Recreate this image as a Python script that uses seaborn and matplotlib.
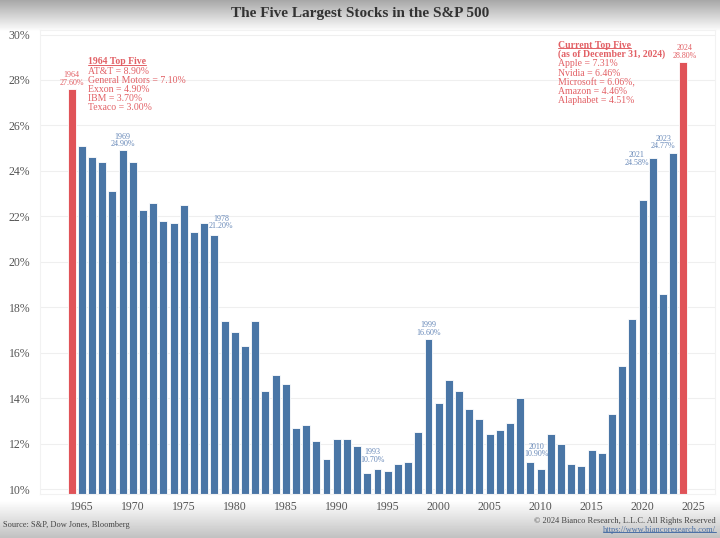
import numpy as np
import pandas as pd
import seaborn as sns
import matplotlib
matplotlib.use("Agg")
import matplotlib.pyplot as plt
from matplotlib.lines import Line2D

# share of S&P 500 market cap held by the five largest stocks (%)
years = list(range(1964, 2025))
shares = [27.60, 25.10, 24.60, 24.40, 23.10, 24.90, 24.40, 22.30, 22.60, 21.80,
          21.70, 22.50, 21.30, 21.70, 21.20, 17.40, 16.90, 16.30, 17.40, 14.30,
          15.00, 14.60, 12.70, 12.80, 12.10, 11.30, 12.20, 12.20, 11.90, 10.70,
          10.90, 10.80, 11.10, 11.20, 12.50, 16.60, 13.80, 14.80, 14.30, 13.50,
          13.10, 12.40, 12.60, 12.90, 14.00, 11.20, 10.90, 12.40, 12.00, 11.10,
          11.00, 11.70, 11.60, 13.30, 15.40, 17.50, 22.70, 24.58, 18.60, 24.77,
          28.80]
highlight_years = [1964, 2024]
label_years = [1964, 1969, 1978, 1993, 1999, 2010, 2021, 2023, 2024]

top5_1964 = ["AT&T = 8.90%", "General Motors = 7.10%", "Exxon = 4.90%",
             "IBM = 3.70%", "Texaco = 3.00%"]
top5_now = ["Apple = 7.31%", "Nvidia = 6.46%", "Microsoft = 6.06%,",
            "Amazon = 4.46%", "Alaphabet = 4.51%"]
yticks = [10, 12, 14, 16, 18, 20, 22, 24, 26, 28, 30]
xticks = [1965, 1970, 1975, 1980, 1985, 1990, 1995, 2000, 2005, 2010, 2015, 2020, 2025]

BLUE = "#4a76a6"
RED = "#e05358"
LBLUE = "#6788b8"
LRED = "#e26065"
GREY = "#555555"

# label offsets (pixels) relative to bar top
label_off = {1964: (0, 10), 1969: (0, 10), 1978: (7, 12), 1993: (5, 17),
             1999: (0, 10), 2010: (-4, 18), 2021: (-16, -1), 2023: (-10, 11),
             2024: (1, 10)}

sns.set_theme(style="white")
plt.rcParams["font.family"] = ["Liberation Serif", "DejaVu Serif"]

W, H = 720, 538
fig = plt.figure(figsize=(W / 100, H / 100), dpi=100)


def px(x, y):
    return x / W, 1 - y / H


# header / footer gradient
bg = fig.add_axes([0, 0, 1, 1], zorder=-10)
col = np.ones(H)
col[:32] = np.linspace(0.66, 1.0, 32)
col[500:] = np.linspace(1.0, 0.76, H - 500)
bg.imshow(col[:, None], cmap="gray", vmin=0, vmax=1, aspect="auto",
          extent=[0, 1, 0, 1])
bg.axis("off")

ax = fig.add_axes([40 / W, 1 - 494 / H, 675 / W, 464 / H])
ax.set_facecolor("white")

df = pd.DataFrame({"year": years, "share": shares})
df["grp"] = np.where(df["year"].isin(highlight_years), "hi", "lo")
sns.barplot(data=df, x="year", y="share", hue="grp",
            palette={"hi": RED, "lo": BLUE}, native_scale=True, dodge=False,
            width=0.78, edgecolor="white", linewidth=0.6, legend=False,
            saturation=1, ax=ax)

ax.set_xlim(1960.9, 2027.1)
ax.set_ylim(9.78, 30.2)
ax.set_yticks(yticks)
ax.set_yticklabels([f"{t}%" for t in yticks])
ax.set_xticks(xticks)
ax.set_xticklabels([str(t) for t in xticks])
ax.tick_params(axis="both", length=0, labelsize=8.5, labelcolor=GREY)
ax.tick_params(axis="y", pad=7)
ax.tick_params(axis="x", pad=5)
ax.set_xlabel("")
ax.set_ylabel("")
ax.yaxis.grid(True, color="#efefef", lw=0.8)
ax.set_axisbelow(True)
for s in ax.spines.values():
    s.set_color("#f2f2f2")
    s.set_linewidth(0.8)

# bar labels
for y in label_years:
    v = shares[years.index(y)]
    c = LRED if y in highlight_years else LBLUE
    dx, dy = label_off[y]
    ax.annotate(f"{y}\n{v:.2f}%", xy=(y, v), xytext=(dx, dy),
                textcoords="offset pixels", ha="center", va="center",
                fontsize=5.8, color=c, linespacing=0.95)

fig.canvas.draw()


def underline(t):
    fig.canvas.draw()
    bb = t.get_window_extent()
    inv = fig.transFigure.inverted()
    (x0, y0), (x1, _) = inv.transform([(bb.x0, bb.y0 + 1.6), (bb.x1, bb.y0)])
    fig.add_artist(Line2D([x0, x1], [y0, y0], color=t.get_color(), lw=0.7))


# 1964 top five box
t = fig.text(*px(88, 62), "1964 Top Five", fontsize=7, fontweight="bold",
             color=LRED, va="center", ha="left")
underline(t)
for i, s in enumerate(top5_1964):
    fig.text(*px(88, 71.5 + 9.1 * i), s, fontsize=7, color=LRED,
             va="center", ha="left")

# current top five box
t = fig.text(*px(558, 45), "Current Top Five", fontsize=7, fontweight="bold",
             color=LRED, va="center", ha="left")
underline(t)
fig.text(*px(558, 54.5), "(as of December 31, 2024)", fontsize=7,
         fontweight="bold", color=LRED, va="center", ha="left")
for i, s in enumerate(top5_now):
    fig.text(*px(558, 64 + 9.1 * i), s, fontsize=7, color=LRED,
             va="center", ha="left")

# title and footer
fig.text(*px(360, 14), "The Five Largest Stocks in the S&P 500", fontsize=11,
         fontweight="bold", color="#333333", ha="center", va="center")
fig.text(*px(3, 525), "Source: S&P, Dow Jones, Bloomberg", fontsize=6,
         color="#444444", ha="left", va="center")
fig.text(*px(716, 521), "\u00a9 2024 Bianco Research, L.L.C. All Rights Reserved",
         fontsize=6, color="#444444", ha="right", va="center")
t = fig.text(*px(716, 530), "https://www.biancoresearch.com/", fontsize=6,
             color="#4a6fa5", ha="right", va="center")
underline(t)

fig.savefig("out.png", dpi=100)
